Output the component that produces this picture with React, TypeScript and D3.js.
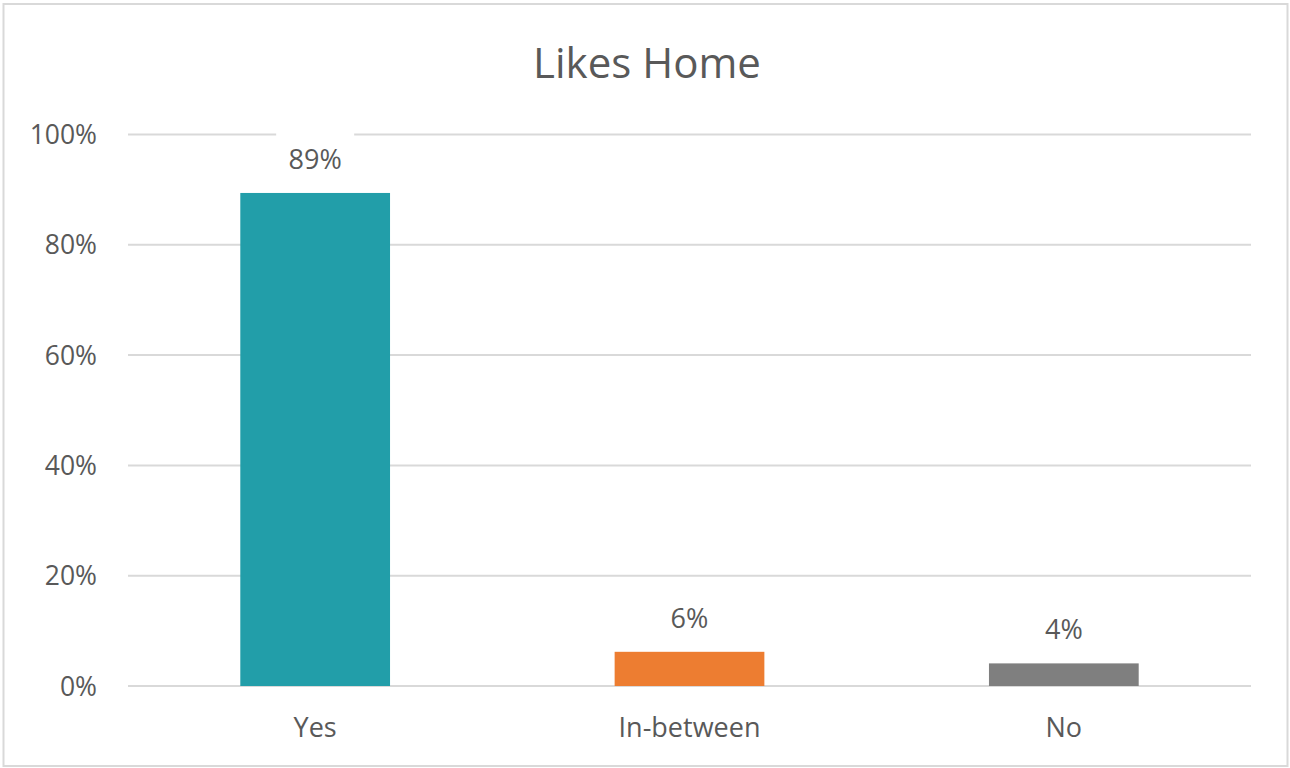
import React from "react";
import * as d3 from "d3";

const categories = ["Yes", "In-between", "No"];
const values = [0.894, 0.062, 0.041];
const labels = ["89%", "6%", "4%"];
const colors = ["#229ea9", "#ed7d31", "#7f7f7f"];
const yTicks = [0, 0.2, 0.4, 0.6, 0.8, 1.0];
const title = "Likes Home";

const W = 1290;
const H = 768;
const FONT = "'Open Sans', 'Noto Sans', sans-serif";
const TEXT = "#595959";

export default function App() {
  const x = d3.scaleBand<string>().domain(categories).range([128, 1251]).paddingInner(0.6).paddingOuter(0.3);
  const y = d3.scaleLinear().domain([0, 1]).range([686, 134.5]);
  const fmt = d3.format(".0%");

  return (
    <svg width={W} height={H} style={{ position: "fixed", left: 0, top: 0, background: "#fff" }}>
      <rect x={0} y={0} width={W} height={H} fill="#fff" />
      <rect x={3.5} y={4} width={1284} height={762} fill="none" stroke="#d9d9d9" strokeWidth={2} />
      <text x={647} y={78} textAnchor="middle" fontFamily={FONT} fontSize={42} fill={TEXT}>
        {title}
      </text>
      {yTicks.map((t) => (
        <g key={t}>
          <line x1={128} x2={1251} y1={y(t)} y2={y(t)} stroke="#d9d9d9" strokeWidth={2} />
          <text x={97} y={y(t)} dy="0.36em" textAnchor="end" fontFamily={FONT} fontSize={26.5} fill={TEXT}>
            {fmt(t)}
          </text>
        </g>
      ))}
      {categories.map((c, i) => (
        <rect key={c} x={x(c)} y={y(values[i])} width={x.bandwidth()} height={y(0) - y(values[i])} fill={colors[i]} />
      ))}
      {categories.map((c, i) => {
        const cx = (x(c) as number) + x.bandwidth() / 2;
        const by = y(values[i]) - 24;
        return (
          <g key={c + "lbl"}>
            <rect x={cx - 39} y={by - 37} width={78} height={46} fill="#fff" />
            <text x={cx} y={by} textAnchor="middle" fontFamily={FONT} fontSize={27} fill={TEXT}>
              {labels[i]}
            </text>
          </g>
        );
      })}
      {categories.map((c) => (
        <text key={c + "cat"} x={(x(c) as number) + x.bandwidth() / 2} y={737} textAnchor="middle" fontFamily={FONT} fontSize={27} fill={TEXT}>
          {c}
        </text>
      ))}
    </svg>
  );
}
